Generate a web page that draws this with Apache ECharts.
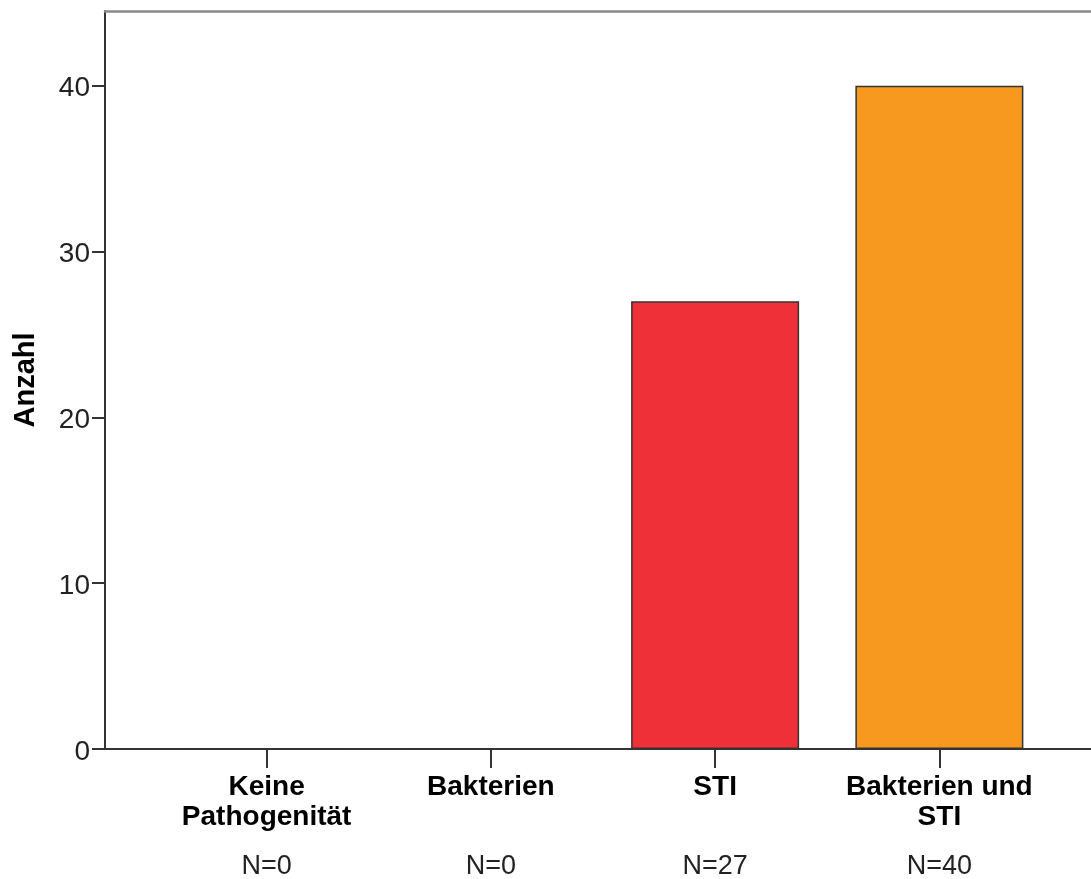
<!DOCTYPE html>
<html>
<head>
<meta charset="utf-8">
<script src="https://cdn.jsdelivr.net/npm/echarts@6/dist/echarts.min.js"></script>
<style>
html,body{margin:0;padding:0;background:#fff;}
#chart{width:1091px;height:879px;}
</style>
</head>
<body>
<div id="chart"></div>
<script>
const categories = ['Keine\nPathogenität', 'Bakterien', 'STI', 'Bakterien und\nSTI'];
const counts = [0, 0, 27, 40];
const barColors = ['#3E58AC', '#2EB848', '#F03039', '#F8991F'];
const yTicks = [0, 10, 20, 30, 40];
const yMax = 44.5;
const yName = 'Anzahl';

const FONT = '"Liberation Sans", Arial, sans-serif';
const chart = echarts.init(document.getElementById('chart'), null, {renderer: 'canvas'});

chart.setOption({
  animation: false,
  backgroundColor: '#ffffff',
  grid: [
    {left: 154.5, right: 39.5, top: 11, bottom: 130, outerBoundsMode: 'none', containLabel: false},
    {left: 105, right: 0, top: 11, bottom: 130, outerBoundsMode: 'none', containLabel: false}
  ],
  xAxis: [
    {
      type: 'category', gridIndex: 0, data: categories,
      axisLine: {show: false},
      axisTick: {show: true, alignWithLabel: true, length: 19, lineStyle: {color: '#333', width: 2}},
      axisLabel: {margin: 23, fontFamily: FONT, fontSize: 28, fontWeight: 'bold', color: '#000', lineHeight: 30, interval: 0}
    },
    {
      type: 'category', gridIndex: 0, data: categories, position: 'bottom', offset: 0,
      axisLine: {show: false}, axisTick: {show: false},
      axisLabel: {margin: 104, fontFamily: FONT, fontSize: 27, color: '#222', lineHeight: 27, interval: 0,
        formatter: (v, i) => 'N=' + counts[i]}
    },
    {
      type: 'value', gridIndex: 1, min: 0, max: 1, position: 'bottom',
      axisLine: {show: true, onZero: false, lineStyle: {color: '#333', width: 2}},
      axisTick: {show: false}, axisLabel: {show: false}, splitLine: {show: false}
    },
    {
      type: 'value', gridIndex: 1, min: 0, max: 1, position: 'top',
      axisLine: {show: true, onZero: false, lineStyle: {color: '#8a8a8a', width: 2.5}},
      axisTick: {show: false}, axisLabel: {show: false}, splitLine: {show: false}
    }
  ],
  yAxis: [
    {type: 'value', gridIndex: 0, min: 0, max: yMax, show: false},
    {
      type: 'value', gridIndex: 1, min: 0, max: yMax, interval: 10,
      name: yName, nameLocation: 'middle', nameGap: 65,
      nameTextStyle: {fontFamily: FONT, fontSize: 29, fontWeight: 'bold', color: '#000'},
      axisLine: {show: true, onZero: false, lineStyle: {color: '#333', width: 2}},
      axisTick: {show: true, length: 13, customValues: yTicks, lineStyle: {color: '#333', width: 2}},
      axisLabel: {margin: 15, fontFamily: FONT, fontSize: 28, color: '#222', customValues: yTicks,
        verticalAlign: 'top', lineHeight: 6},
      splitLine: {show: false}
    }
  ],
  series: [{
    type: 'bar', xAxisIndex: 0, yAxisIndex: 0,
    data: counts.map((v, i) => ({value: v, itemStyle: {color: barColors[i]}})),
    barWidth: 168,
    itemStyle: {borderColor: '#333', borderWidth: 1.5}
  }]
});
</script>
</body>
</html>
